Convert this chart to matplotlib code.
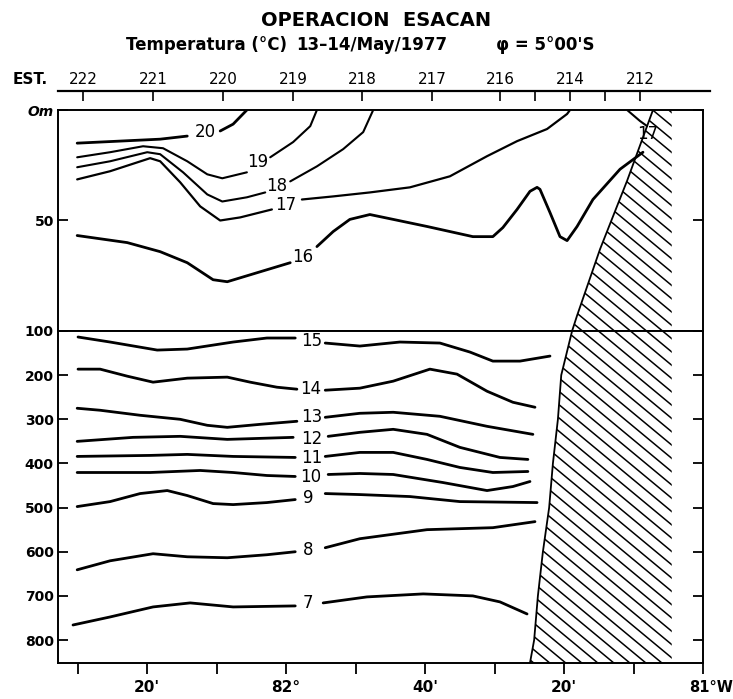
import numpy as np
import matplotlib.pyplot as plt
from matplotlib.collections import LineCollection
from matplotlib.patches import Polygon
from matplotlib.transforms import IdentityTransform

nan = np.nan

# Estaciones (longitud oeste, grados decimales)
est_lon = [82.487, 82.319, 82.151, 81.983, 81.818, 81.650, 81.487, 81.403, 81.319, 81.235, 81.151]
est_num = ['222', '221', '220', '219', '218', '217', '216', '', '214', '', '212']

# Perfil del fondo (talud)
coast_dep = [0, 32, 63, 93, 100, 200, 300, 400, 500, 600, 700, 800, 852]
coast_lon = [81.120, 81.182, 81.247, 81.302, 81.314, 81.340, 81.348, 81.360, 81.369,
             81.384, 81.396, 81.405, 81.415]
shelf_lon = 81.075

# Isotermas 0-100 m (nan = corte para la etiqueta)
t20_lon = [82.501, 82.302, 82.237, nan, 82.158, 82.127, 82.094]
t20_dep = [15.0, 13.2, 11.8, nan, 9.5, 6.4, 0.0]
t19_lon = [82.501, 82.422, 82.343, 82.295, 82.237, 82.189, 82.153, 82.094, nan,
           82.038, 81.983, 81.942, 81.926]
t19_dep = [21.4, 19.1, 16.4, 17.3, 23.2, 29.1, 30.9, 28.2, nan, 21.4, 14.5, 7.3, 0.0]
t18_lon = [82.501, 82.422, 82.333, 82.302, 82.247, 82.189, 82.153, 82.094, 82.050, nan,
           81.990, 81.926, 81.863, 81.815, 81.791]
t18_dep = [25.9, 23.2, 19.1, 20.0, 28.2, 38.2, 41.4, 39.5, 37.3, nan, 32.3, 25.5, 17.7, 10.0, 0.0]
t17_lon = [82.501, 82.422, 82.326, 82.302, 82.254, 82.206, 82.158, 82.110, 82.034, nan,
           81.962, 81.887, 81.799, 81.703, 81.607, 81.518, 81.446, 81.374, 81.326, 81.319]
t17_dep = [31.4, 27.7, 21.8, 23.2, 32.7, 43.6, 50.0, 48.6, 45.0, nan,
           40.5, 39.1, 37.3, 35.0, 30.0, 20.9, 14.1, 8.6, 1.8, 0.0]
t17b_lon = [81.182, 81.151, 81.134]
t17b_dep = [0.0, 5.0, 7.3]
t16_lon = [82.501, 82.381, 82.302, 82.237, 82.175, 82.141, 82.062, 81.990, nan,
           81.926, 81.887, 81.847, 81.799, 81.743, 81.662, 81.552, 81.504, 81.480, 81.446,
           81.415, 81.398, 81.391, 81.367, 81.343, 81.326, 81.302, 81.264, 81.199, 81.144]
t16_dep = [56.8, 60.0, 64.1, 69.1, 76.8, 77.7, 73.2, 69.1, nan,
           61.8, 55.0, 49.5, 47.3, 49.5, 52.7, 57.3, 57.3, 53.2, 45.0,
           36.8, 35.0, 35.9, 46.4, 57.3, 59.1, 52.7, 40.5, 26.8, 19.1]

# Isotermas 100-850 m
t15_lon = [82.499, 82.422, 82.309, 82.237, 82.127, 82.046, 81.978, nan,
           81.906, 81.823, 81.727, 81.631, 81.559, 81.504, 81.439, 81.367]
t15_dep = [113.6, 125.0, 143.2, 140.9, 125.0, 115.9, 115.9, nan,
           127.3, 134.1, 125.0, 127.3, 147.7, 168.2, 168.2, 156.8]
t14_lon = [82.499, 82.446, 82.381, 82.319, 82.237, 82.141, 82.086, 82.022, 81.974, nan,
           81.906, 81.823, 81.743, 81.655, 81.590, 81.518, 81.456, 81.403]
t14_dep = [186.4, 186.4, 202.3, 215.9, 206.8, 204.5, 215.9, 227.3, 231.8, nan,
           234.1, 229.5, 213.6, 186.4, 197.7, 236.4, 261.4, 272.7]
t13_lon = [82.501, 82.446, 82.350, 82.254, 82.189, 82.141, 82.062, 81.974, nan,
           81.906, 81.823, 81.743, 81.631, 81.518, 81.408]
t13_dep = [275.0, 279.5, 290.9, 300.0, 313.6, 318.2, 311.4, 304.5, nan,
           295.5, 286.4, 284.1, 293.2, 315.9, 334.1]
t12_lon = [82.501, 82.367, 82.254, 82.141, 81.983, nan,
           81.899, 81.823, 81.743, 81.662, 81.583, 81.487, 81.420]
t12_dep = [350.0, 340.9, 338.6, 345.5, 340.9, nan,
           338.6, 329.5, 322.7, 334.1, 363.6, 386.4, 390.9]
t11_lon = [82.501, 82.326, 82.237, 82.127, 81.978, nan,
           81.906, 81.823, 81.743, 81.662, 81.583, 81.504, 81.420]
t11_dep = [384.1, 381.8, 379.5, 384.1, 386.4, nan,
           384.1, 375.0, 375.0, 390.9, 409.1, 420.5, 418.2]
t10_lon = [82.501, 82.326, 82.206, 82.127, 82.046, 81.978, nan,
           81.899, 81.823, 81.743, 81.624, 81.518, 81.456, 81.415]
t10_dep = [420.5, 420.5, 415.9, 420.5, 427.3, 429.5, nan,
           425.0, 422.7, 425.0, 443.2, 461.4, 452.3, 440.9]
t9_lon = [82.501, 82.422, 82.350, 82.285, 82.237, 82.175, 82.127, 82.046, 81.978, nan,
          81.906, 81.823, 81.703, 81.583, 81.398]
t9_dep = [497.7, 486.4, 468.2, 461.4, 472.7, 490.9, 493.2, 488.6, 481.8, nan,
          468.2, 470.5, 475.0, 486.4, 488.6]
t8_lon = [82.501, 82.422, 82.319, 82.237, 82.141, 82.046, 81.978, nan,
          81.906, 81.823, 81.662, 81.504, 81.403]
t8_dep = [640.9, 620.5, 604.5, 611.4, 613.6, 606.8, 600.0, nan,
          590.9, 570.5, 550.0, 545.5, 531.8]
t7_lon = [82.511, 82.422, 82.319, 82.230, 82.127, 81.978, nan,
          81.911, 81.806, 81.671, 81.552, 81.487, 81.422]
t7_dep = [765.9, 747.7, 725.0, 715.9, 725.0, 722.7, nan,
          715.9, 702.3, 695.5, 700.0, 713.6, 740.9]

# Etiquetas de las isotermas
top_lab = ['20', '19', '18', '17', '16', '17']
top_lab_lon = [82.194, 82.067, 82.022, 82.002, 81.959, 81.132]
top_lab_dep = [10.0, 23.6, 34.5, 43.2, 66.4, 10.9]
bot_lab = ['15', '14', '13', '12', '11', '10', '9', '8', '7']
bot_lab_lon = [81.938, 81.942, 81.938, 81.938, 81.938, 81.942, 81.947, 81.947, 81.947]
bot_lab_dep = [122.7, 231.8, 295.5, 345.5, 388.6, 431.8, 477.3, 595.5, 715.9]

lon_ticks = [82.5, 82 + 20/60, 82 + 10/60, 82.0, 81 + 50/60, 81 + 40/60,
             81 + 30/60, 81 + 20/60, 81 + 10/60, 81.0]
lon_labels = ['', "20'", '', '82°', '', "40'", '', "20'", '', '']

plt.rcParams['font.family'] = 'DejaVu Sans'
W_PX, H_PX = 733, 699
fig = plt.figure(figsize=(W_PX / 100, H_PX / 100), dpi=100)

x0, x1 = 58, 703
lon_left, lon_right = 82.547, 81.0
ax_top = fig.add_axes([x0 / W_PX, 1 - 331 / H_PX, (x1 - x0) / W_PX, 221 / H_PX])
ax_bot = fig.add_axes([x0 / W_PX, 1 - 663 / H_PX, (x1 - x0) / W_PX, 332 / H_PX])

ax_top.set_ylim(100, 0)
ax_bot.set_ylim(852, 100)


def hatch_shelf(ax, dmin, dmax):
    sel = [(lo, d) for lo, d in zip(coast_lon, coast_dep) if dmin <= d <= dmax]
    lo = [p[0] for p in sel]
    de = [p[1] for p in sel]
    ax.plot(lo, de, color='black', lw=1.3, solid_capstyle='butt')
    poly = Polygon(list(zip(lo, de)) + [(shelf_lon, de[-1]), (shelf_lon, de[0])],
                   closed=True, facecolor='none', edgecolor='none')
    ax.add_patch(poly)
    # rayado diagonal en pixeles
    segs = []
    for c in np.arange(-220, 720, 13.3):
        segs.append([(470, c + 0.83 * 260), (730, c)])
    lc = LineCollection(segs, colors='black', linewidths=1.1, transform=IdentityTransform())
    ax.add_collection(lc, autolim=False)
    lc.set_clip_path(poly)


for ax in (ax_top, ax_bot):
    ax.set_xlim(lon_left, lon_right)
    for s in ax.spines.values():
        s.set_linewidth(1.4)
    ax.tick_params(axis='y', direction='in', left=True, right=True, length=7, width=1.3,
                   labelsize=10, pad=3)

hatch_shelf(ax_top, 0, 100)
hatch_shelf(ax_bot, 100, 852)

top_lines = [(t20_lon, t20_dep, 2.0), (t19_lon, t19_dep, 1.5), (t18_lon, t18_dep, 1.5),
             (t17_lon, t17_dep, 1.6), (t17b_lon, t17b_dep, 1.5), (t16_lon, t16_dep, 2.0)]
for lo, de, lw in top_lines:
    ax_top.plot(lo, de, color='black', lw=lw, solid_capstyle='round', solid_joinstyle='round')

bot_lines = [(t15_lon, t15_dep), (t14_lon, t14_dep), (t13_lon, t13_dep), (t12_lon, t12_dep),
             (t11_lon, t11_dep), (t10_lon, t10_dep), (t9_lon, t9_dep), (t8_lon, t8_dep),
             (t7_lon, t7_dep)]
for lo, de in bot_lines:
    ax_bot.plot(lo, de, color='black', lw=2.0, solid_capstyle='round', solid_joinstyle='round')

for s, lo, de in zip(top_lab, top_lab_lon, top_lab_dep):
    ax_top.text(lo, de, s, ha='center', va='center', fontsize=12)
for s, lo, de in zip(bot_lab, bot_lab_lon, bot_lab_dep):
    ax_bot.text(lo, de, s, ha='center', va='center', fontsize=12)

ax_top.set_yticks([0, 50])
ax_top.set_yticklabels(['Om', '50'], fontweight='bold')
ax_top.get_yticklabels()[0].set_fontstyle('italic')
ax_top.tick_params(axis='x', bottom=False, labelbottom=False)

ax_bot.set_yticks([100, 200, 300, 400, 500, 600, 700, 800])
ax_bot.set_yticklabels(['100', '200', '300', '400', '500', '600', '700', '800'], fontweight='bold')
ax_bot.set_xticks(lon_ticks)
ax_bot.set_xticklabels(lon_labels, fontweight='bold', fontsize=11)
ax_bot.tick_params(axis='x', direction='out', length=8, width=1.3, pad=4)
fig.text(711 / W_PX, 1 - 688 / H_PX, '81°W', ha='center', va='center',
         fontsize=10.5, fontweight='bold')

# Eje de estaciones
ax_est = fig.add_axes([x0 / W_PX, 1 - 91 / H_PX, (710 - x0) / W_PX, 0.0001])
ax_est.set_xlim(lon_left, 81.0 - 7 / 417)
for side in ('left', 'right', 'bottom'):
    ax_est.spines[side].set_visible(False)
ax_est.spines['top'].set_linewidth(1.6)
ax_est.set_yticks([])
ax_est.set_xticks(est_lon)
ax_est.set_xticklabels(est_num, fontsize=11)
ax_est.tick_params(axis='x', top=True, labeltop=True, bottom=False, labelbottom=False,
                   direction='in', length=7, width=1.2, pad=3)
ax_est.patch.set_visible(False)
fig.text(13 / W_PX, 1 - 79 / H_PX, 'EST.', ha='left', va='center', fontsize=11, fontweight='bold')

# Titulos
fig.text(376 / W_PX, 1 - 20 / H_PX, 'OPERACION  ESACAN', ha='center', va='center',
         fontsize=14, fontweight='bold')
fig.text(207 / W_PX, 1 - 45 / H_PX, 'Temperatura (°C)', ha='center', va='center',
         fontsize=12, fontweight='bold')
fig.text(372 / W_PX, 1 - 45 / H_PX, '13–14/May/1977', ha='center', va='center',
         fontsize=12, fontweight='bold')
fig.text(545 / W_PX, 1 - 45 / H_PX, 'φ = 5°00\'S', ha='center', va='center',
         fontsize=12, fontweight='bold')

fig.savefig('out.png', dpi=100)
